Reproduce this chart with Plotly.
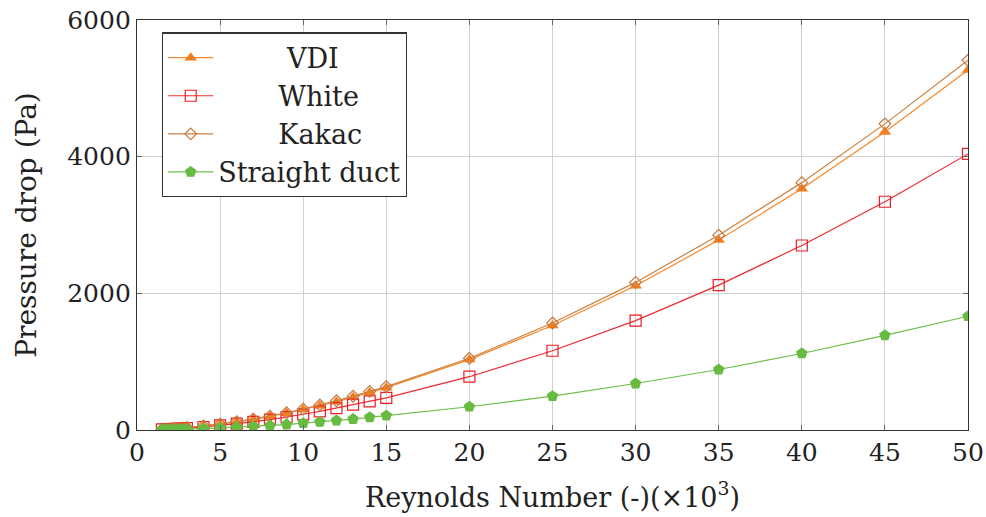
import plotly.graph_objects as go

re_vals = [1.5, 1.75, 2, 2.25, 2.5, 2.75, 3, 4, 5, 6, 7, 8, 9, 10, 11, 12, 13, 14, 15,
           20, 25, 30, 35, 40, 45, 50]
vdi = [10, 13, 17, 21, 25, 30, 35, 58, 85, 118, 155, 197, 245, 300, 355, 415, 480, 550, 620,
       1030, 1530, 2110, 2780, 3530, 4360, 5270]
kakac = [10, 13, 17, 21, 26, 31, 36, 60, 88, 122, 160, 203, 252, 308, 365, 428, 495, 565, 635,
         1050, 1565, 2160, 2850, 3620, 4480, 5410]
white = [8, 10, 13, 16, 19, 23, 27, 44, 68, 92, 120, 152, 187, 230, 272, 320, 370, 418, 470,
         780, 1160, 1600, 2120, 2700, 3340, 4040]
straight = [3, 4, 5, 6, 8, 9, 11, 19, 30, 40, 52, 64, 80, 100, 118, 138, 160, 185, 210,
            340, 495, 680, 885, 1120, 1385, 1665]

x_ticks = [0, 5, 10, 15, 20, 25, 30, 35, 40, 45, 50]
y_ticks = [0, 2000, 4000, 6000]

FONT = "DejaVu Serif"
TXT = "#222222"

fig = go.Figure()
fig.add_trace(go.Scatter(x=re_vals, y=vdi, name="        VDI",
                         mode="lines+markers",
                         line=dict(color="#F7872A", width=1.2),
                         marker=dict(symbol="triangle-up", size=11, color="#F47F20")))
fig.add_trace(go.Scatter(x=re_vals, y=white, name="       White",
                         mode="lines+markers",
                         line=dict(color="#EE2B30", width=1.2),
                         marker=dict(symbol="square-open", size=11, color="#EE1C25",
                                     line=dict(width=1.2))))
fig.add_trace(go.Scatter(x=re_vals, y=kakac, name="       Kakac",
                         mode="lines+markers",
                         line=dict(color="#CC8040", width=1.2),
                         marker=dict(symbol="diamond-open", size=9, color="#C8783C",
                                     line=dict(width=1.2))))
fig.add_trace(go.Scatter(x=re_vals, y=straight, name="Straight duct",
                         mode="lines+markers",
                         line=dict(color="#6CBF48", width=1.2),
                         marker=dict(symbol="pentagon", size=12, color="#66BB40")))

axis_common = dict(showline=True, linecolor="#333333", linewidth=1.3, mirror="allticks",
                   ticks="inside", ticklen=5, tickcolor="#666666",
                   showgrid=True, gridcolor="#D0D0D0", gridwidth=1,
                   zeroline=False, automargin=False,
                   tickfont=dict(family=FONT, size=25, color=TXT))

fig.update_xaxes(range=[0, 50], tickvals=x_ticks,
                 title=dict(text="Reynolds Number (-)(×10<sup>3</sup>)",
                            font=dict(family=FONT, size=27, color=TXT), standoff=21),
                 **axis_common)
fig.update_yaxes(range=[0, 6000], tickvals=y_ticks,
                 title=dict(text="Pressure drop (Pa)",
                            font=dict(family=FONT, size=28, color=TXT), standoff=22),
                 **axis_common)

fig.update_layout(
    width=986, height=517,
    margin=dict(l=137, r=18, t=20, b=87),
    plot_bgcolor="white", paper_bgcolor="white",
    font=dict(family=FONT, color=TXT),
    legend=dict(x=0.03, y=0.97, xanchor="left", yanchor="top",
                bgcolor="white", bordercolor="#333333", borderwidth=1.3,
                font=dict(family=FONT, size=27, color=TXT),
                itemwidth=45, tracegroupgap=0),
)

fig.write_html("out.html")
